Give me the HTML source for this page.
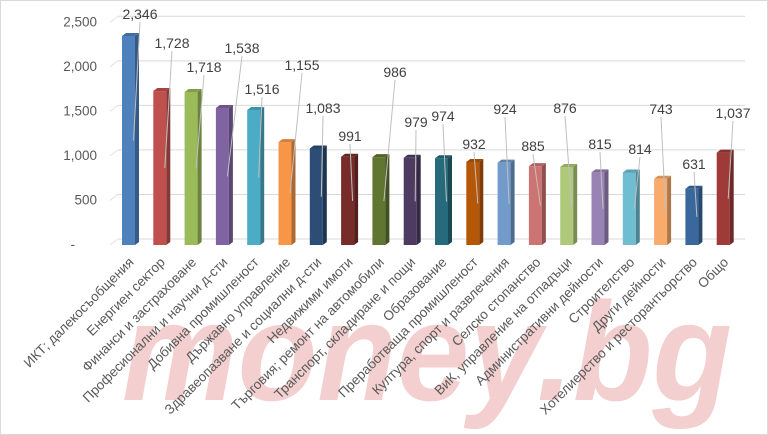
<!DOCTYPE html>
<html><head><meta charset="utf-8"><style>
body{margin:0;background:#fff;}
svg{display:block;font-family:"Liberation Sans","DejaVu Sans",sans-serif;}
</style></head><body>
<svg id="c" width="768" height="435" viewBox="0 0 768 435">
<rect x="0.5" y="0.5" width="767" height="434" fill="#fff" stroke="#d9d9d9"/>
<text x="122" y="400" font-size="140" font-weight="bold" font-style="italic" fill="#f3cfcf" textLength="610" lengthAdjust="spacingAndGlyphs" font-family="Liberation Sans, sans-serif">money.bg</text>
<g id="grid"></g><g id="bars"></g><g id="labels"></g><g id="cats"></g><g id="yt"></g>
</svg>
<script>
const categories=["ИКТ; далекосъобщения","Енергиен сектор","Финанси и застраховане","Професионални и научни д-сти","Добивна промишленост","Държавно управление","Здравеопазване и социални д-сти","Недвижими имоти","Търговия; ремонт на автомобили","Транспорт, складиране и пощи","Образование","Преработваща промишленост","Култура, спорт и развлечения","Селско стопанство","ВиК, управление на отпадъци","Административни дейности","Строителство","Други дейности","Хотелиерство и ресторантьорство","Общо"];
const values=[2346,1728,1718,1538,1516,1155,1083,991,986,979,974,932,924,885,876,815,814,743,631,1037];
const yTicks=[0,500,1000,1500,2000,2500];
const yTickLabels=["-","500","1,000","1,500","2,000","2,500"];
const colors=["#4f81bd","#c0504d","#9bbb59","#8064a2","#4bacc6","#f79646","#2c4d75","#772c2a","#5f7530","#4d3b62","#276a7c","#b65708","#729aca","#cd7371","#afc97a","#9983b5","#6fbdd1","#f9ab6b","#3a679c","#9e3a38"];
const labelPos=[[140,14],[172,43],[204,67],[242,48],[262,89],[302,65],[323,108],[350,136],[395,72],[416,122],[443,116],[474,144],[505,109],[533,146],[565,108],[600,144],[640,149],[661,109],[694,164],[733,113]];
const NS="http://www.w3.org/2000/svg";
const base=245, ppu=209/2346, x0=128.5, step=31.3;
const y=v=>base-v*ppu, x=i=>x0+i*step;
function mk(t,a,p){const e=document.createElementNS(NS,t);for(const k in a)e.setAttribute(k,a[k]);p.appendChild(e);return e;}
function shade(h,f){const n=parseInt(h.slice(1),16);let r=n>>16,g=(n>>8)&255,b=n&255;return`rgb(${r*f|0},${g*f|0},${b*f|0})`;}
const G=document.getElementById('grid'),B=document.getElementById('bars'),L=document.getElementById('labels'),C=document.getElementById('cats'),Y=document.getElementById('yt');
yTicks.forEach((t,i)=>{
 const gy=y(t)-6;
 const l=mk('line',{x1:118,x2:745,y1:gy,y2:gy,stroke:'#d9d9d9','stroke-width':1},G);
 
 const d=mk('line',{x1:110,x2:118,y1:gy+6,y2:gy,stroke:'#e3e3e3','stroke-width':1},G);
 
 const tx=mk('text',{x:t===0?75:97,y:y(t)+4,'font-size':13.5,fill:'#595959','text-anchor':'end'},Y);
 tx.textContent=yTickLabels[i];
 
});
values.forEach((v,i)=>{
 const cx=x(i),top=y(v),w=13,d=4;
 const g=mk('g',{},B);
 
 mk('rect',{x:cx-w/2,y:top,width:w,height:base-top,fill:colors[i]},g);
 mk('polygon',{points:`${cx+w/2},${top} ${cx+w/2+d},${top-3} ${cx+w/2+d},${base-3} ${cx+w/2},${base}`,fill:shade(colors[i],0.7)},g);
 mk('polygon',{points:`${cx-w/2},${top} ${cx-w/2+d},${top-3} ${cx+w/2+d},${top-3} ${cx+w/2},${top}`,fill:shade(colors[i],0.85)},g);
 const [lx,ly]=labelPos[i];
 const ln=mk('line',{x1:lx,y1:ly+8,x2:cx+5,y2:base-v*ppu/2,stroke:'#bfbfbf','stroke-width':1},L);
 
 const t=mk('text',{x:lx,y:ly+5,'font-size':14,fill:'#404040','text-anchor':'middle'},L);
 t.textContent=v.toLocaleString('en-US');
 
 const c=mk('text',{x:cx+6,y:263,'font-size':13.5,fill:'#595959','text-anchor':'end',transform:`rotate(-45 ${cx+6} 263)`},C);
 c.textContent=categories[i];
 
});
</script>
</body></html>
